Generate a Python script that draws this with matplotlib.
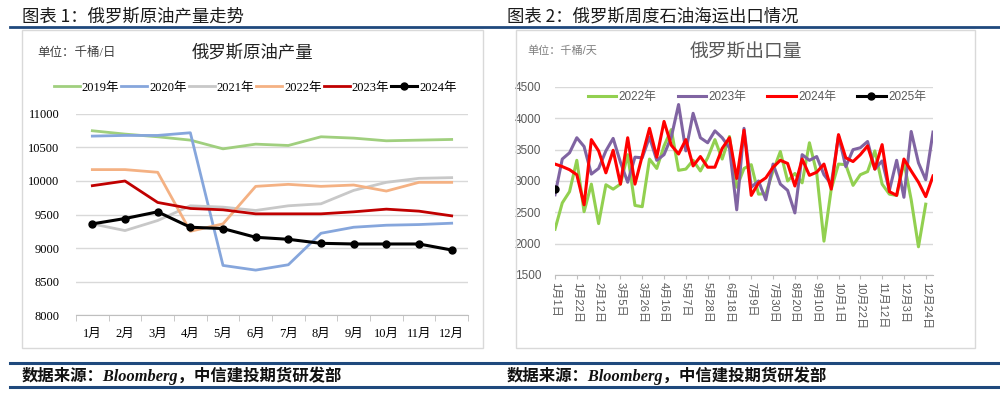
import numpy as np
import matplotlib.pyplot as plt
from matplotlib.lines import Line2D
from matplotlib.patches import Rectangle

plt.rcParams['font.family'] = ['Liberation Serif', 'Noto Sans CJK SC']
cjk = ['Noto Sans CJK SC', 'DejaVu Sans']
serif = ['Liberation Serif', 'Noto Sans CJK SC']
sans = ['Liberation Sans', 'Noto Sans CJK SC']

# ---- left chart data: monthly production ----
months = ['1月', '2月', '3月', '4月', '5月', '6月', '7月', '8月', '9月', '10月', '11月', '12月']
prod_2019 = [10750, 10700, 10660, 10610, 10480, 10550, 10530, 10660, 10640, 10600, 10610, 10620]
prod_2020 = [10670, 10680, 10680, 10720, 8740, 8670, 8750, 9220, 9310, 9340, 9350, 9370]
prod_2021 = [9360, 9260, 9410, 9630, 9610, 9560, 9630, 9660, 9860, 9980, 10040, 10050]
prod_2022 = [10170, 10170, 10130, 9250, 9360, 9920, 9950, 9920, 9940, 9850, 9980, 9980]
prod_2023 = [9930, 10000, 9680, 9590, 9570, 9510, 9510, 9510, 9540, 9580, 9550, 9480]
prod_2024 = [9360, 9440, 9540, 9310, 9290, 9160, 9130, 9070, 9060, 9060, 9060, 8970]

# ---- right chart data: weekly seaborne exports ----
week_labels = ['1月1日', '1月22日', '2月12日', '3月5日', '3月26日', '4月16日', '5月7日', '5月28日',
               '6月18日', '7月9日', '7月30日', '8月20日', '9月10日', '10月1日', '10月22日',
               '11月12日', '12月3日', '12月24日']
exp_2022 = [2230, 2650, 2830, 3330, 2510, 2950, 2320, 2940, 2870, 2950, 3420, 2610, 2590, 3350,
            3200, 3560, 3820, 3170, 3190, 3330, 3160, 3370, 3660, 3350, 3710, 2900, 3200, 3260,
            2790, 2800, 3160, 3470, 3000, 3120, 2970, 3610, 3130, 2040, 2870, 3270, 3260, 2930,
            3100, 3150, 3480, 2950, 2790, 2770, 3300, 2700, 1950, 2630]
exp_2023 = [2780, 3350, 3450, 3690, 3550, 3110, 3200, 3480, 3680, 3300, 2980, 3380, 3370, 3700,
            3330, 3420, 3700, 4220, 3480, 4080, 3690, 3610, 3800, 3690, 3530, 2540, 3840, 2900,
            3000, 2700, 3270, 2950, 2850, 2490, 3420, 3330, 3390, 3100, 2950, 3720, 3230, 3500,
            3530, 3630, 3190, 3320, 2850, 3330, 2740, 3790, 3290, 3020, 3780]
exp_2024 = [3270, 3230, 3180, 3100, 2620, 3660, 3480, 3130, 3490, 2950, 3690, 2950, 3400, 3840,
            3380, 3950, 3570, 3430, 3660, 3240, 3390, 3220, 3220, 3520, 3690, 3040, 3810, 2770,
            2970, 3050, 3220, 3330, 3280, 2920, 3350, 3090, 3140, 3270, 2870, 3740, 3370, 3310,
            3420, 3560, 3190, 3580, 2830, 2770, 3350, 3160, 2980, 2750, 3080]
exp_2025 = [2880]

fig = plt.figure(figsize=(10, 3.99), dpi=100)

# headline titles + rules
fig.text(0.022, 0.958, '图表 1：俄罗斯原油产量走势', family=cjk, fontsize=12.5,
         color='#1a1a1a', va='center')
fig.text(0.507, 0.958, '图表 2：俄罗斯周度石油海运出口情况', family=cjk, fontsize=12.5,
         color='#1a1a1a', va='center')
for yy, lw in [(0.932, 2.0), (0.090, 2.2), (0.030, 2.2)]:
    fig.add_artist(Line2D([0.01, 1.0], [yy, yy], transform=fig.transFigure,
                          color='#1F497D', lw=lw))
fig.text(0.022, 0.058, '数据来源：Bloomberg，中信建投期货研发部', family=serif, fontsize=11.8,
         fontweight='bold', style='italic', color='#111111', va='center')
fig.text(0.507, 0.058, '数据来源：Bloomberg，中信建投期货研发部', family=serif, fontsize=11.8,
         fontweight='bold', style='italic', color='#111111', va='center')

# chart frames
fig.add_artist(Rectangle((0.022, 0.128), 0.461, 0.797, transform=fig.transFigure,
                         fill=False, edgecolor='#D9D9D9', lw=1))
fig.add_artist(Rectangle((0.516, 0.128), 0.459, 0.797, transform=fig.transFigure,
                         fill=False, edgecolor='#D9D9D9', lw=1))

# ---------------- left chart ----------------
ax1 = fig.add_axes([0.076, 0.2105, 0.392, 0.5038])
x = np.arange(len(months))
ax1.plot(x, prod_2019, color='#A0CF7E', lw=2.0, label='2019年')
ax1.plot(x, prod_2020, color='#86A6DC', lw=2.0, label='2020年')
ax1.plot(x, prod_2021, color='#C8C8C8', lw=2.0, label='2021年')
ax1.plot(x, prod_2022, color='#F4B183', lw=2.0, label='2022年')
ax1.plot(x, prod_2023, color='#C00000', lw=2.0, label='2023年')
ax1.plot(x, prod_2024, color='black', lw=2.2, marker='o', ms=5, label='2024年')
ax1.set_xlim(-0.5, 11.5)
ax1.set_ylim(8000, 11000)
ax1.set_yticks(np.arange(8000, 11001, 500))
ax1.set_xticks(x)
ax1.set_xticklabels(months)
ax1.set_xticks(np.arange(-0.5, 12, 1), minor=True)
ax1.tick_params(axis='x', which='major', length=0, pad=9, labelsize=9)
ax1.tick_params(axis='x', which='minor', length=4, color='#BFBFBF')
ax1.tick_params(axis='y', length=0, pad=12, labelsize=9)
ax1.grid(axis='y', color='#D9D9D9', lw=1)
ax1.set_axisbelow(True)
for s in ['top', 'right', 'left']:
    ax1.spines[s].set_visible(False)
ax1.spines['bottom'].set_color('#BFBFBF')
fig.text(0.037, 0.867, '单位：千桶/日', family=serif, fontsize=9, color='#404040', va='center')
fig.text(0.253, 0.866, '俄罗斯原油产量', family=serif, fontsize=12.5, color='#222222',
         ha='center', va='center')
ax1.legend(loc='center', bbox_to_anchor=(0.457, 1.13), ncol=6, frameon=False,
           fontsize=9, handlelength=2.1, handletextpad=0.15, columnspacing=0.15,
           borderaxespad=0)

# ---------------- right chart ----------------
ax2 = fig.add_axes([0.555, 0.3108, 0.378, 0.4712])
ax2.plot(np.arange(len(exp_2022)), exp_2022, color='#92D050', lw=2.2, label='2022年')
ax2.plot(np.arange(len(exp_2023)), exp_2023, color='#8064A2', lw=2.2, label='2023年')
ax2.plot(np.arange(len(exp_2024)), exp_2024, color='#FF0000', lw=2.2, label='2024年')
ax2.plot(np.arange(len(exp_2025)), exp_2025, color='black', lw=2.2, marker='o', ms=5,
         label='2025年')
ax2.set_xlim(0, 52)
ax2.set_ylim(1500, 4500)
ax2.set_yticks(np.arange(1500, 4501, 500))
ax2.set_xticks(np.arange(0, 52, 3))
ax2.set_xticklabels(week_labels, rotation=-90, family=sans, fontsize=8, color='#595959')
ax2.tick_params(axis='x', length=3, color='#BFBFBF', pad=2)
ax2.tick_params(axis='y', length=0, pad=10, labelsize=8.5, labelcolor='#595959')
for lab in ax2.get_yticklabels():
    lab.set_family(sans)
ax2.grid(axis='y', color='#D9D9D9', lw=1)
ax2.set_axisbelow(True)
for s in ['top', 'right', 'left']:
    ax2.spines[s].set_visible(False)
ax2.spines['bottom'].set_color('#BFBFBF')
fig.text(0.527, 0.874, '单位：千桶/天', family=sans, fontsize=8, color='#7F7F7F', va='center')
fig.text(0.746, 0.866, '俄罗斯出口量', family=sans, fontsize=13.5, color='#595959',
         ha='center', va='center')
leg2 = ax2.legend(loc='center', bbox_to_anchor=(0.534, 0.945), ncol=4, frameon=False,
                  fontsize=8.5, handlelength=2.4, handletextpad=0.2, columnspacing=1.8,
                  borderaxespad=0)
for t in leg2.get_texts():
    t.set_family(sans)
    t.set_color('#595959')

plt.savefig('out.png', dpi=100)
